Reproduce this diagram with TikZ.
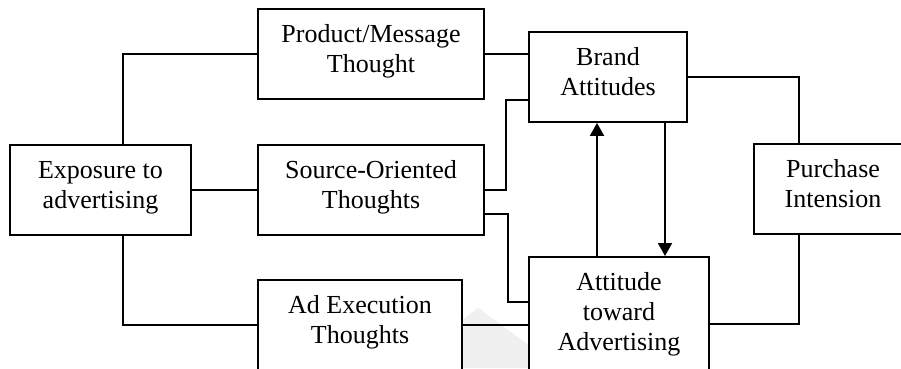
\documentclass[tikz,border=0pt]{standalone}
\usepackage{fontspec}
\setmainfont{Liberation Serif}
\usetikzlibrary{arrows.meta}

\begin{document}
\begin{tikzpicture}[x=1pt, y=-1pt,
  every node/.style={font=\fontsize{26}{30}\selectfont},
  % boxes: fixed top-to-first-baseline offset, text centred
  box/.style={draw, line width=1.9pt, inner sep=0pt, align=center, anchor=north},
  two/.style={text height=64pt, text depth=26pt},
  three/.style={text height=94pt, text depth=26pt},
  link/.style={line width=1.9pt},
  arr/.style={line width=1.9pt, -{Triangle[width=14pt, length=13pt]}}
]
\useasboundingbox (0,0) rectangle (901,368);
\clip (0,0) rectangle (901,368);

% faint background mark
\fill[gray!12] (478,308) -- (529,345) -- (529,368) -- (462,368) -- (462,320) -- cycle;

\node[box, two, minimum width=181pt] (exp)   at (100.5,144) {Exposure to\\advertising};
\node[box, two, minimum width=226pt] (prod)  at (371,8)     {Product/Message\\Thought};
\node[box, two, minimum width=226pt] (src)   at (371,144)   {Source-Oriented\\Thoughts};
\node[box, two, minimum width=204pt] (ad)    at (360,279)   {Ad Execution\\Thoughts};
\node[box, two, minimum width=158pt] (brand) at (608,31)    {Brand\\Attitudes};
\node[box, three, minimum width=180pt] (att) at (619,256)   {Attitude\\toward\\Advertising};
\node[box, two, minimum width=158pt] (pur)   at (833,143)   {Purchase\\Intension};

% exposure to the three kinds of thoughts
\draw[link] ([xshift=22.5pt]exp.north) |- (prod.west);
\draw[link] (exp.east) -- (exp.east -| src.west);
\draw[link] ([xshift=22.5pt]exp.south) |- (ad.west);

% thoughts to attitudes
\draw[link] (prod.east) -- (prod.east -| brand.west);
\draw[link] ([yshift=23pt]brand.south west) -- ++(-22pt,0) |- (src.east);
\draw[link] ([yshift=22pt]src.south east) -- ++(23pt,0) |- ([yshift=-46pt]att.north west);
\draw[link] (ad.east) -- (ad.east -| att.west);

% attitudes influence each other
\draw[arr] ([xshift=-11pt]brand.south |- att.north) -- ([xshift=-11pt]brand.south);
\draw[arr] ([xshift=57pt]brand.south) -- ([xshift=57pt]brand.south |- att.north);

% attitudes to purchase intension
\draw[link] (brand.east) -| ([xshift=46pt]pur.north west);
\draw[link] ([yshift=-68pt]att.north east) -| ([xshift=46pt]pur.south west);
\end{tikzpicture}
\end{document}
